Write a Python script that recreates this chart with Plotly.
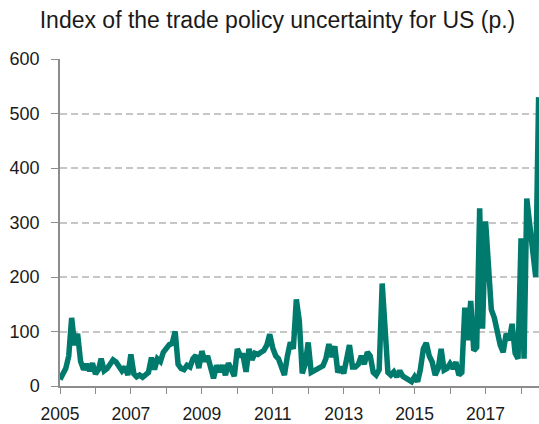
import pandas as pd
import plotly.graph_objects as go

# Monthly trade policy uncertainty index for the US, starting January 2005
start_month = "2005-01-01"
tpu_index = [
    # 2005
    12, 25, 32, 55, 125, 75, 96, 45, 30, 40, 28, 42,
    # 2006
    22, 30, 50, 28, 32, 40, 48, 44, 36, 28, 35, 20,
    # 2007
    58, 22, 17, 20, 16, 22, 25, 52, 30, 50, 45, 62,
    # 2008
    70, 76, 78, 100, 40, 32, 30, 38, 35, 50, 56, 33,
    # 2009
    64, 45, 55, 30, 14, 38, 26, 38, 20, 42, 30, 18,
    # 2010
    68, 56, 56, 26, 68, 48, 60, 58, 62, 65, 75, 95,
    # 2011
    70, 55, 50, 35, 20, 55, 80, 68, 159, 120, 23, 40,
    # 2012
    80, 25, 28, 30, 32, 37, 50, 77, 53, 73, 25, 35,
    # 2013
    23, 45, 75, 35, 35, 40, 55, 40, 62, 55, 25, 20,
    # 2014
    30, 188, 120, 25, 20, 26, 17, 28, 18, 15, 12, 8,
    # 2015
    17, 8, 30, 68, 79, 55, 44, 20, 32, 68, 29, 32,
    # 2016
    41, 32, 44, 20, 25, 144, 84, 156, 65, 71, 326, 105,
    # 2017
    302, 200, 140, 125, 96, 75, 62, 96, 84, 114, 60, 50,
    # 2018
    271, 50, 344, 290, 230, 200, 530,
]

year_ticks_every = "M24"
y_ticks = [0, 100, 200, 300, 400, 500, 600]

months = pd.date_range(start_month, periods=len(tpu_index), freq="MS")

line_color = "#007A6C"
axis_color = "#8C8C8C"
grid_color = "#C6C6C6"
text_color = "#1A1A1A"
font_family = "Liberation Sans, Arial, sans-serif"

fig = go.Figure(
    go.Scatter(
        x=months,
        y=tpu_index,
        mode="lines",
        line=dict(color=line_color, width=5.5),
        hoverinfo="x+y",
    )
)

fig.update_layout(
    width=539,
    height=424,
    margin=dict(l=60, r=0, t=59, b=35),
    paper_bgcolor="white",
    plot_bgcolor="white",
    showlegend=False,
    title=dict(
        text="Index of the trade policy uncertainty for US (p.)",
        font=dict(family=font_family, size=23, color=text_color),
        x=277.5 / 539,
        xanchor="center",
        xref="container",
        y=1 - 20 / 424,
        yref="container",
        yanchor="middle",
    ),
    font=dict(family=font_family, color=text_color),
)

fig.update_xaxes(
    type="date",
    range=["2005-01-01", "2018-07-05"],
    tick0="2005-01-01",
    dtick=year_ticks_every,
    tickformat="%Y",
    ticks="outside",
    ticklen=6,
    tickwidth=1.2,
    tickcolor=axis_color,
    tickfont=dict(family=font_family, size=17.5, color=text_color),
    ticklabelstandoff=5,
    minor=dict(dtick="M12", tick0="2005-01-01", ticks="outside",
               ticklen=6, tickwidth=1.2, tickcolor=axis_color, showgrid=False),
    showgrid=False,
    showline=True,
    linecolor=axis_color,
    linewidth=1.5,
    zeroline=False,
)

fig.update_yaxes(
    range=[0, 600],
    tickvals=y_ticks,
    ticks="outside",
    ticklen=7,
    tickwidth=1.2,
    tickcolor=axis_color,
    tickfont=dict(family=font_family, size=18, color=text_color),
    ticklabelstandoff=8,
    showgrid=True,
    gridcolor=grid_color,
    gridwidth=1.5,
    griddash="7px,4px",
    showline=True,
    linecolor=axis_color,
    linewidth=1.5,
    zeroline=False,
)

fig.write_html("out.html")
